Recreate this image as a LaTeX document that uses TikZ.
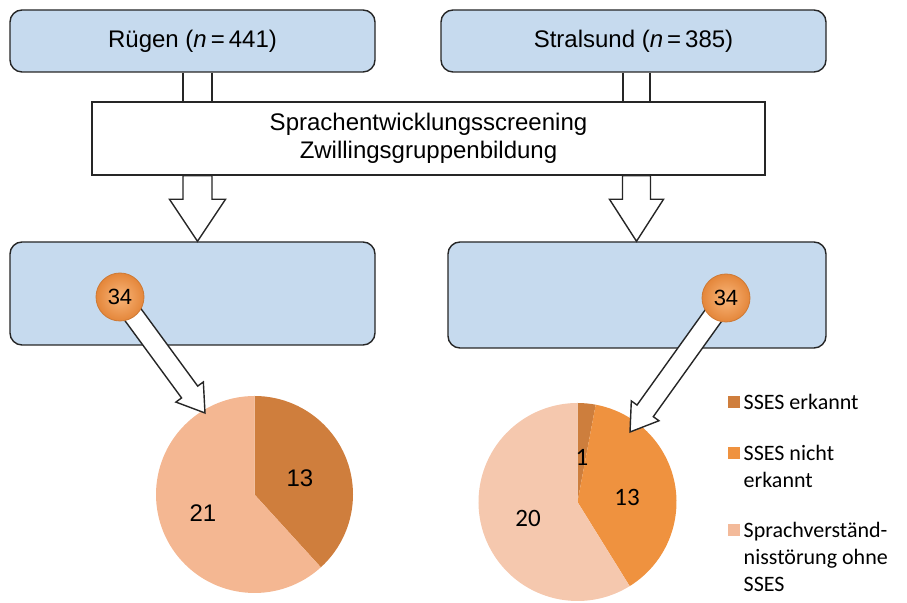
\documentclass[tikz,border=0pt]{standalone}
\usepackage{fontspec}
\setmainfont{Liberation Sans}
\newfontfamily\legendfont{Carlito}
\usetikzlibrary{calc}
\definecolor{boxblue}{HTML}{C6DAEE}
\definecolor{frame}{HTML}{262626}
\definecolor{sseserk}{HTML}{CF7E3D}
\definecolor{ssesnicht}{HTML}{EF923F}
\definecolor{ssesohne}{HTML}{F3BA9A}
\definecolor{ballin}{HTML}{F9B67A}
\definecolor{ballout}{HTML}{E4863A}

% block arrow: from, to, shaft half width, head half width, head length
\newcommand{\blockarrow}[5]{%
  \coordinate (bah) at ($(#2)!#5!(#1)$);
  \draw[arrowbody] ($(#1)!#3!90:(#2)$) -- ($(bah)!#3!90:(#2)$)
    -- ($(bah)!#4!90:(#2)$) -- (#2) -- ($(bah)!#4!-90:(#2)$)
    -- ($(bah)!#3!-90:(#2)$) -- ($(#1)!#3!-90:(#2)$) -- cycle;}

\begin{document}
\begin{tikzpicture}[x=0.5pt, y=-0.5pt, line width=0.7pt,
  bluebox/.style={draw=frame, fill=boxblue, rounded corners=6pt, minimum height=31pt},
  whitebox/.style={draw=frame, fill=white, align=center, font=\fontsize{12}{14}\selectfont},
  arrowbody/.style={draw=frame, fill=white, line join=miter},
  ball/.style={circle, minimum size=24pt, inner sep=0pt, draw=ballout!90!black, line width=0.4pt,
    shading=radial, inner color=ballin, outer color=ballout, font=\fontsize{11}{13}\selectfont},
  pienum/.style={font=\fontsize{12}{14}\selectfont},
  legsq/.style={minimum size=6pt, inner sep=0pt},
  legtext/.style={inner sep=0pt, align=left, anchor=north west, font=\legendfont\fontsize{11}{13.5}\selectfont}]

\useasboundingbox (0,0) rectangle (907,603);

% === Top boxes ===
\node[bluebox, minimum width=182.5pt, font=\fontsize{12}{14}\selectfont] (ruegen) at (192.5,41)
  {R\"ugen (\textit{n}\,=\,441)};
\node[bluebox, minimum width=192.5pt, font=\fontsize{12}{14}\selectfont] (stralsund) at (633.5,41)
  {Stralsund (\textit{n}\,=\,385)};

% Screening box
\node[whitebox, minimum width=336.5pt, minimum height=36.5pt] (screen) at (428.5,138.5)
  {Sprachentwicklungsscreening\\Zwillingsgruppenbildung};

% double lines into the screening box
\coordinate (rl) at (183,0);
\coordinate (rr) at (212,0);
\coordinate (sl) at (623,0);
\coordinate (sr) at (650,0);
\draw[frame] (ruegen.south -| rl) -- (screen.north -| rl);
\draw[frame] (ruegen.south -| rr) -- (screen.north -| rr);
\draw[frame] (stralsund.south -| sl) -- (screen.north -| sl);
\draw[frame] (stralsund.south -| sr) -- (screen.north -| sr);

% === Result boxes ===
\node[bluebox, minimum width=182.5pt, minimum height=51.5pt] (ruegenres) at (192.5,293.5) {};
\node[bluebox, minimum width=189pt, minimum height=53pt] (stralres) at (637,295) {};

% down arrows
\coordinate (rx) at (197.5,0);
\coordinate (sx) at (636.5,0);
\coordinate (rdown0) at (screen.south -| rx);
\coordinate (rdown1) at (ruegenres.north -| rx);
\coordinate (sdown0) at (screen.south -| sx);
\coordinate (sdown1) at (stralres.north -| sx);
\blockarrow{rdown0}{rdown1}{7.25pt}{14pt}{21pt}
\blockarrow{sdown0}{sdown1}{7pt}{13.5pt}{21pt}

% === Pies ===
\coordinate (lpie) at (254.5,494.5);
\coordinate (rpie) at (577.5,502);
\begin{scope}[shift={(lpie)}, x=1pt, y=1pt]
  \fill[sseserk] (0,0) -- (90:49.25) arc[start angle=90, end angle=-47.65, radius=49.25] -- cycle;
  \fill[ssesohne!95!orange] (0,0) -- (-47.65:49.25) arc[start angle=-47.65, end angle=-270, radius=49.25] -- cycle;
\end{scope}
\begin{scope}[shift={(rpie)}, x=1pt, y=1pt]
  \fill[sseserk!85!brown] (0,0) -- (90:49.5) arc[start angle=90, end angle=79.4, radius=49.5] -- cycle;
  \fill[ssesnicht] (0,0) -- (79.4:49.5) arc[start angle=79.4, end angle=-58.2, radius=49.5] -- cycle;
  \fill[ssesohne!80!white] (0,0) -- (-58.2:49.5) arc[start angle=-58.2, end angle=-270, radius=49.5] -- cycle;
\end{scope}

\node[pienum] (l13) at (300,478) {13};
\node[pienum] (l21) at (203,513) {21};
\node[pienum, font=\legendfont\fontsize{12.5}{14}\selectfont] (r1) at (582,457) {1};
\node[pienum, font=\legendfont\fontsize{12.5}{14}\selectfont] (r13) at (627,497) {13};
\node[pienum, font=\legendfont\fontsize{12.5}{14}\selectfont] (r20) at (528,518) {20};

% === Diagonal arrows from the balls ===
\coordinate (lballc) at (120,297);
\coordinate (rballc) at (726,298);
\coordinate (ltip) at (205,413);
\coordinate (rtip) at (630,432);
\blockarrow{lballc}{ltip}{5pt}{8.5pt}{13pt}
\blockarrow{rballc}{rtip}{5pt}{8.5pt}{13pt}

\node[ball] (lball) at (lballc) {34};
\node[ball] (rball) at (rballc) {34};

% === Legend ===
\node[legsq, fill=sseserk] (sqerk) at (734,402) {};
\node[legsq, fill=ssesnicht] (sqnicht) at (734,453) {};
\node[legsq, fill=ssesohne] (sqohne) at (734,530) {};
\node[legtext] (txerk) at (743,394) {SSES erkannt};
\node[legtext] (txnicht) at (743,445) {SSES nicht\\erkannt};
\node[legtext] (txohne) at (743,522) {Sprachverst\"and-\\nisst\"orung ohne\\SSES};

\end{tikzpicture}
\end{document}
